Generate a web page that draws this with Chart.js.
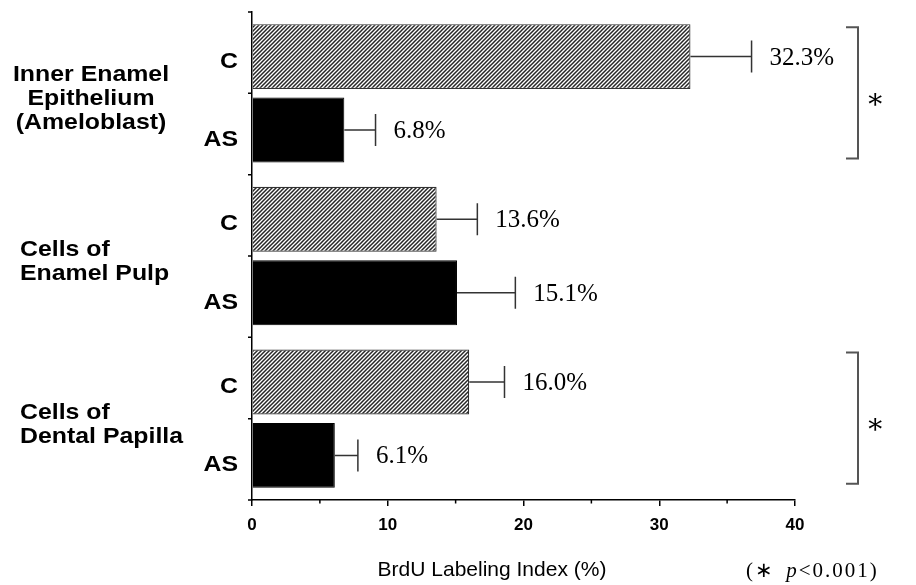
<!DOCTYPE html>
<html>
<head>
<meta charset="utf-8">
<title>BrdU Labeling Index</title>
<script src="https://cdn.jsdelivr.net/npm/chart.js@4/dist/chart.umd.min.js"></script>
<style>
    html, body { margin: 0; padding: 0; background: #fff; }
    #chart { display: block; }
</style>
</head>
<body>
<canvas id="chart" width="916" height="585"></canvas>
<script>
// 数据
const groupLabels = [
    ['Inner Enamel', 'Epithelium', '(Ameloblast)'],
    ['Cells of', 'Enamel Pulp'],
    ['Cells of', 'Dental Papilla']
];
const seriesNames = ['C', 'AS'];
const controlValues = [32.3, 13.6, 16.0];
const controlErrors = [4.5, 3.0, 2.6];
const asValues = [6.8, 15.1, 6.1];
const asErrors = [2.3, 4.3, 1.7];
const significantGroups = [0, 2];
const xTickValues = [0, 10, 20, 30, 40];
const xMinorTicks = [5, 15, 25, 35];
const axisTitle = 'BrdU Labeling Index (%)';
const footnote = ['(\u2217 ', 'p', '<0.001)'];

const SANS = '"Liberation Sans", Arial, Helvetica, sans-serif';
const SERIF = '"Liberation Serif", "Times New Roman", Times, serif';

// 斜线填充
function makeHatch() {
    const s = 4;
    const c = document.createElement('canvas');
    c.width = s; c.height = s;
    const g = c.getContext('2d');
    g.fillStyle = '#fff';
    g.fillRect(0, 0, s, s);
    g.strokeStyle = '#262626';
    g.lineWidth = 1.5;
    g.beginPath();
    g.moveTo(-1, 1); g.lineTo(1, -1);
    g.moveTo(0, s); g.lineTo(s, 0);
    g.moveTo(s - 1, s + 1); g.lineTo(s + 1, s - 1);
    g.stroke();
    return g.createPattern(c, 'repeat');
}

// 宽体粗字（原图文字略有横向拉伸）
function wideText(ctx, text, x, y, align, size) {
    ctx.save();
    ctx.font = 'bold ' + size + 'px ' + SANS;
    ctx.textBaseline = 'alphabetic';
    const k = 1.13;
    const w = ctx.measureText(text).width * k;
    let left = x;
    if (align === 'center') left = x - w / 2;
    else if (align === 'right') left = x - w;
    ctx.translate(left, y);
    ctx.scale(k, 1);
    ctx.textAlign = 'left';
    ctx.fillText(text, 0, 0);
    ctx.restore();
}

const annotations = {
    id: 'annotations',
    afterDatasetsDraw(chart) {
        const ctx = chart.ctx;
        const xs = chart.scales.x;
        const ys = chart.scales.y;
        const area = chart.chartArea;
        const errs = [controlErrors, asErrors];

        ctx.save();
        ctx.fillStyle = '#000';

        // 误差线与数值
        chart.data.datasets.forEach((ds, di) => {
            const meta = chart.getDatasetMeta(di);
            meta.data.forEach((bar, i) => {
                const v = ds.data[i];
                const end = xs.getPixelForValue(v + errs[di][i]);
                ctx.strokeStyle = '#333';
                ctx.lineWidth = 1.5;
                ctx.beginPath();
                ctx.moveTo(bar.x, bar.y);
                ctx.lineTo(end, bar.y);
                ctx.moveTo(end, bar.y - 16);
                ctx.lineTo(end, bar.y + 16);
                ctx.stroke();

                ctx.font = '25px ' + SERIF;
                ctx.textAlign = 'left';
                ctx.textBaseline = 'alphabetic';
                ctx.fillText(v.toFixed(1) + '%', end + 18, bar.y + 8);

                // 系列标签 C / AS
                wideText(ctx, seriesNames[di], area.left - 14, bar.y + 11 + di * 5, 'right', 22);
            });
        });

        // 分组标签
        groupLabels.forEach((lines, gi) => {
            const cy = ys.getPixelForValue(gi) + 4;
            const lh = 24;
            lines.forEach((t, li) => {
                const y = cy + (li - (lines.length - 1) / 2) * lh + 8;
                if (lines.length === 3) wideText(ctx, t, 91, y, 'center', 22);
                else wideText(ctx, t, 20, y, 'left', 22);
            });
        });

        // 纵轴刻度
        ctx.strokeStyle = '#000';
        ctx.lineWidth = 1.5;
        ctx.beginPath();
        for (let v = -0.5; v <= groupLabels.length - 0.5; v += 0.5) {
            const py = ys.getPixelForValue(v);
            ctx.moveTo(area.left - 4, py);
            ctx.lineTo(area.left, py);
        }
        // 横轴次刻度
        xMinorTicks.forEach(v => {
            const px = xs.getPixelForValue(v);
            ctx.moveTo(px, area.bottom);
            ctx.lineTo(px, area.bottom + 3.5);
        });
        ctx.stroke();

        // 显著性括号
        ctx.strokeStyle = '#555';
        ctx.lineWidth = 2;
        significantGroups.forEach(g => {
            const c = chart.getDatasetMeta(0).data[g];
            const a = chart.getDatasetMeta(1).data[g];
            const top = c.y - c.height / 2 + 3;
            const bottom = a.y + a.height / 2 - 4;
            const bx = area.right + 63;
            ctx.beginPath();
            ctx.moveTo(bx - 12, top);
            ctx.lineTo(bx, top);
            ctx.lineTo(bx, bottom);
            ctx.lineTo(bx - 12, bottom);
            ctx.stroke();
            ctx.font = '28px "DejaVu Serif", ' + SERIF;
            ctx.textAlign = 'center';
            ctx.textBaseline = 'middle';
            ctx.fillText('\u2217', bx + 17, (top + bottom) / 2 + 8);
        });

        // 横轴标题
        ctx.font = '21px ' + SANS;
        ctx.textAlign = 'center';
        ctx.textBaseline = 'alphabetic';
        ctx.fillText(axisTitle, 492, 576);

        // 脚注
        let fx = 746;
        ctx.textAlign = 'left';
        ctx.letterSpacing = '2px';
        footnote.forEach((part, i) => {
            ctx.font = (i === 1 ? 'italic ' : '') + '21px ' + SERIF;
            ctx.fillText(part, fx, 577);
            fx += ctx.measureText(part).width + (i === 0 ? 4 : 0);
        });
        ctx.restore();
    }
};

const hatch = makeHatch();

new Chart(document.getElementById('chart'), {
    type: 'bar',
    data: {
        labels: groupLabels.map(l => l.join(' ')),
        datasets: [
            {
                label: seriesNames[0],
                data: controlValues,
                backgroundColor: hatch,
                borderColor: '#333',
                borderWidth: 1.2
            },
            {
                label: seriesNames[1],
                data: asValues,
                backgroundColor: '#000',
                borderColor: '#000',
                borderWidth: 1
            }
        ]
    },
    options: {
        indexAxis: 'y',
        responsive: false,
        animation: false,
        categoryPercentage: 0.903,
        barPercentage: 0.884,
        layout: { padding: { left: 0, right: 121, top: 12, bottom: 0 } },
        plugins: { legend: { display: false }, tooltip: { enabled: false } },
        scales: {
            x: {
                min: 0,
                max: 40,
                afterBuildTicks: s => { s.ticks = xTickValues.map(v => ({ value: v })); },
                ticks: {
                    color: '#000',
                    padding: 9,
                    maxRotation: 0,
                    font: { family: SANS, weight: 'bold', size: 17 }
                },
                grid: { drawOnChartArea: false, tickLength: 6, color: '#000', lineWidth: 1.5 },
                border: { color: '#000', width: 1.5 },
                afterFit: s => { s.height = 85; }
            },
            y: {
                ticks: { display: false },
                grid: { display: false },
                border: { color: '#000', width: 1.5 },
                afterFit: s => { s.width = 252; }
            }
        }
    },
    plugins: [annotations]
});
</script>
</body>
</html>
